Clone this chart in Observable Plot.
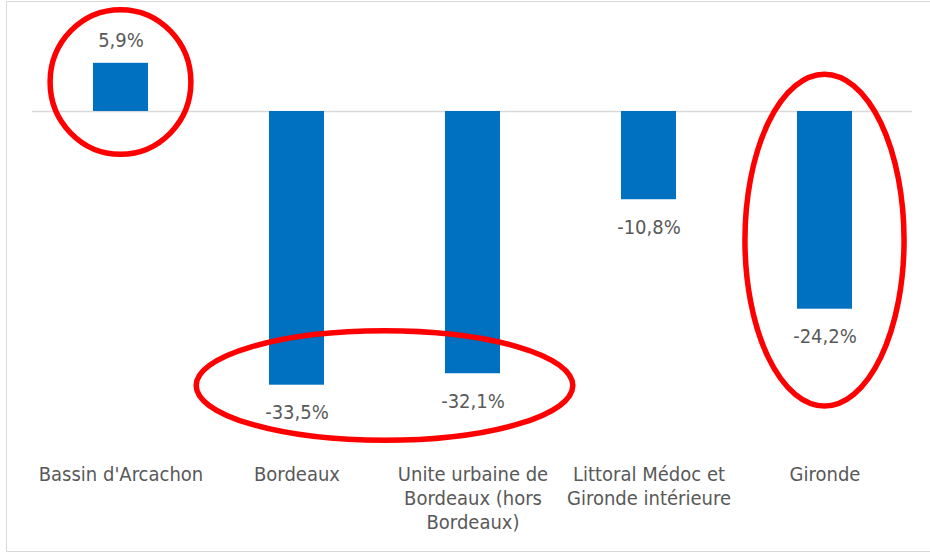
<!DOCTYPE html>
<html>
<head>
<meta charset="utf-8">
<script src="https://cdn.jsdelivr.net/npm/d3@7"></script>
<script src="https://cdn.jsdelivr.net/npm/@observablehq/plot@0.6"></script>
<style>
  html, body { margin: 0; padding: 0; background: #fff; overflow: hidden; width: 930px; height: 555px; }
  #frame { position: absolute; left: 6px; top: 1px; width: 960px; height: 551px; border: 1.5px solid #d9d9d9; box-sizing: border-box; }
  #chart { position: absolute; left: 0; top: 0; }
</style>
</head>
<body>
<div id="frame"></div>
<div id="chart"></div>
<script>
// Data
const categories = ["Bassin d'Arcachon", "Bordeaux", "Unite urbaine de Bordeaux (hors Bordeaux)", "Littoral Médoc et Gironde intérieure", "Gironde"];
const tickLabels = ["Bassin d'Arcachon", "Bordeaux", "Unite urbaine de\nBordeaux (hors\nBordeaux)", "Littoral Médoc et\nGironde intérieure", "Gironde"];
const values = [5.9, -33.5, -32.1, -10.8, -24.2];
const valueLabels = ["5,9%", "-33,5%", "-32,1%", "-10,8%", "-24,2%"];

// Highlight ellipses (annotations): category span (index, fractional), value extent (%)
const highlights = [
  {cx: 0,   rx: 0.40,  yTop: 12.4, yBottom: -5.3},
  {cx: 1.5, rx: 1.07,  yTop: -26.9, yBottom: -40.3},
  {cx: 4,   rx: 0.452, yTop: 4.5, yBottom: -36.1}
];

const data = categories.map((c, i) => ({cat: c, value: values[i], label: valueLabels[i], tick: tickLabels[i]}));
const pos = data.filter(d => d.value >= 0);
const neg = data.filter(d => d.value < 0);

const PX = 8.17, ZERO = 111;

function ellipseMark(index, scales) {
  const x = scales.x, y = scales.y;
  const bw = typeof x.bandwidth === "function" ? x.bandwidth() : (x.bandwidth ?? 0);
  const c0 = x(categories[0]) + bw / 2;
  const step = x(categories[1]) - x(categories[0]);
  const g = d3.create("svg:g");
  for (const h of highlights) {
    const cx = c0 + h.cx * step;
    const y1 = y(h.yTop), y2 = y(h.yBottom);
    g.append("ellipse")
      .attr("cx", cx)
      .attr("cy", (y1 + y2) / 2)
      .attr("rx", h.rx * step)
      .attr("ry", Math.abs(y2 - y1) / 2)
      .attr("fill", "none")
      .attr("stroke", "#ff0000")
      .attr("stroke-width", 5.5);
  }
  return g.node();
}

const chart = Plot.plot({
  width: 930,
  height: 555,
  marginLeft: 32,
  marginRight: 18,
  marginTop: 0,
  marginBottom: 105,
  style: {fontFamily: "'DejaVu Sans Condensed', 'DejaVu Sans', sans-serif", fontSize: "20px", color: "#595959", background: "transparent"},
  x: {domain: categories, paddingInner: 0.6875, paddingOuter: 0.34375, axis: null},
  y: {domain: [-36, 8], range: [ZERO + 36 * PX, ZERO - 8 * PX], axis: null},
  marks: [
    Plot.ruleY([0], {stroke: "#d9d9d9", strokeWidth: 1.5}),
    Plot.barY(data, {x: "cat", y: "value", fill: "#0070c0"}),
    Plot.text(pos, {x: "cat", y: "value", text: "label", lineAnchor: "bottom", dy: -16, fill: "#595959", fontSize: 20}),
    Plot.text(neg, {x: "cat", y: "value", text: "label", lineAnchor: "top", dy: 20, fill: "#595959", fontSize: 20}),
    Plot.axisX({anchor: "bottom", tickSize: 0, tickPadding: 13, tickFormat: (d) => tickLabels[categories.indexOf(d)], lineHeight: 1.2, fontSize: 20, fill: "#595959", label: null}),
    ellipseMark
  ]
});
document.getElementById("chart").appendChild(chart);
</script>
</body>
</html>
